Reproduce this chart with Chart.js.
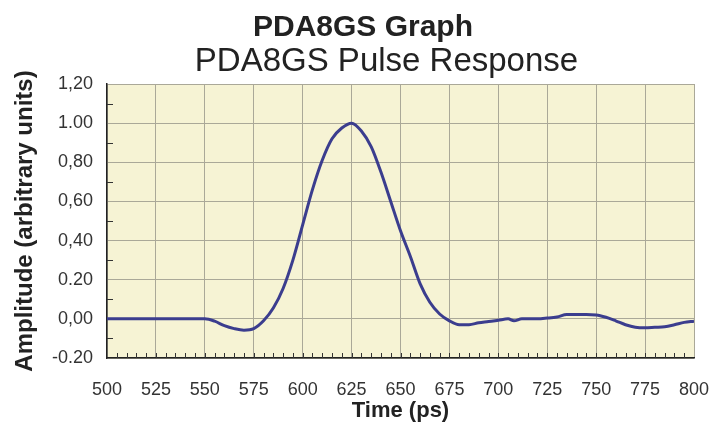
<!DOCTYPE html>
<html>
<head>
<meta charset="utf-8">
<script src="https://cdn.jsdelivr.net/npm/chart.js@4"></script>
<style>
  html, body { margin: 0; padding: 0; background: #fff; }
  #wrap { width: 710px; height: 438px; position: relative; }
</style>
</head>
<body>
<div id="wrap"><canvas id="pulse"></canvas></div>
<script>
// pulse response (ps, arbitrary units)
var times = [500, 510, 520, 530, 540, 550, 555, 560, 565, 570, 575, 580, 585, 590, 595,
  600, 605, 610, 615, 620, 625, 630, 635, 640, 645, 650, 655, 660, 665, 670, 675,
  680, 685, 690, 695, 700, 705, 708, 712, 720, 725, 730, 735, 740, 745, 750, 755,
  760, 765, 770, 775, 780, 785, 790, 795, 800];
var amplitude = [0, 0, 0, 0, 0, 0, -0.012, -0.035, -0.05, -0.058, -0.05, -0.01, 0.055, 0.155, 0.30,
  0.48, 0.66, 0.81, 0.92, 0.975, 1.0, 0.96, 0.88, 0.75, 0.60, 0.45, 0.32, 0.18, 0.085, 0.025, -0.01,
  -0.03, -0.03, -0.02, -0.014, -0.007, 0.0, -0.01, 0.0, 0.0, 0.004, 0.01, 0.022, 0.022, 0.022, 0.02, 0.008,
  -0.01, -0.03, -0.043, -0.046, -0.043, -0.04, -0.03, -0.018, -0.012];
var yTickLabels = ['-0.20', '0,00', '0.20', '0,40', '0,60', '0,80', '1.00', '1,20'];
var xTickLabels = ['500', '525', '550', '575', '600', '625', '650', '675', '700', '725', '750', '775', '800'];

var points = [];
times.forEach(function (t, i) {
  points.push({ x: t, y: amplitude[i] });
});

// pale plot background + little inward minor ticks
var plotDeco = {
  id: 'plotDeco',
  afterLayout: function (chart) {
    // titles in the original sit a bit off the centre
    chart.boxes.forEach(function (b) {
      if (!b.options || !b.options.text) return;
      var shift = b.options.text === 'PDA8GS Graph' ? 8 : -14;
      b.left += shift;
      b.right += shift;
    });
  },
  beforeDraw: function (chart) {
    var a = chart.chartArea, c = chart.ctx;
    c.save();
    c.fillStyle = '#f6f3d4';
    c.fillRect(a.left, a.top, a.right - a.left, a.bottom - a.top);
    c.restore();
  },
  afterDatasetsDraw: function (chart) {
    var a = chart.chartArea, c = chart.ctx;
    var xs = chart.scales.x, ys = chart.scales.y;
    c.save();
    c.strokeStyle = '#333';
    c.lineWidth = 1;
    c.beginPath();
    for (var v = xs.min + 5; v < xs.max; v += 5) {
      var px = Math.round(xs.getPixelForValue(v)) + 0.5;
      c.moveTo(px, a.bottom);
      c.lineTo(px, a.bottom - 5);
    }
    for (var k = 1; k < 14; k += 2) {
      var py = Math.round(ys.getPixelForValue(ys.min + k * 0.1)) + 0.5;
      c.moveTo(a.left, py);
      c.lineTo(a.left + 6, py);
    }
    c.stroke();
    c.restore();
  }
};

var ctx = document.getElementById('pulse');
const myChart = new Chart(ctx, {
  type: 'line',
  data: {
    datasets: [{
      label: 'PDA8GS',
      data: points,
      borderColor: '#3b3d8e',
      borderWidth: 3,
      pointRadius: 0,
      cubicInterpolationMode: 'monotone',
      fill: false
    }]
  },
  options: {
    responsive: true,
    maintainAspectRatio: false,
    animation: false,
    layout: { padding: 0 },
    plugins: {
      legend: { display: false },
      tooltip: { enabled: false },
      title: {
        display: true,
        text: 'PDA8GS Graph',
        color: '#222',
        font: { family: 'Liberation Sans', size: 30, weight: 'bold', lineHeight: 1.0 },
        padding: { top: 13, bottom: 0 }
      },
      subtitle: {
        display: true,
        text: 'PDA8GS Pulse Response',
        color: '#222',
        fullSize: false,
        font: { family: 'Liberation Sans', size: 33, weight: 'normal', lineHeight: 1.0 },
        padding: { top: 2, bottom: 6 }
      }
    },
    scales: {
      x: {
        type: 'linear',
        min: 500,
        max: 800,
        afterFit: function (s) {
          s.height = 80;
          s.paddingLeft = 0;
          s.paddingRight = 16;
        },
        ticks: {
          stepSize: 25,
          padding: 21,
          color: '#333',
          maxRotation: 0,
          font: { family: 'Liberation Sans', size: 18 },
          callback: function (val, i) { return xTickLabels[i]; }
        },
        grid: { color: '#aaa898', lineWidth: 1, drawTicks: false },
        border: { color: '#222', width: 1.5 },
        title: {
          display: true,
          text: 'Time (ps)',
          color: '#222',
          font: { family: 'Liberation Sans', size: 22, weight: 'bold' },
          padding: { top: 0, bottom: 14 }
        }
      },
      y: {
        min: -0.2,
        max: 1.2,
        afterFit: function (s) { s.width = 107; },
        ticks: {
          stepSize: 0.2,
          padding: 14,
          color: '#333',
          font: { family: 'Liberation Sans', size: 18 },
          callback: function (val, i) { return yTickLabels[i]; }
        },
        grid: { color: '#aaa898', lineWidth: 1, drawTicks: false },
        border: { color: '#222', width: 1.5 },
        title: {
          display: true,
          text: 'Amplitude (arbitrary units)',
          color: '#222',
          font: { family: 'Liberation Sans', size: 24, weight: 'bold' },
          padding: { top: 11, bottom: 0 }
        }
      }
    }
  },
  plugins: [plotDeco]
});
</script>
</body>
</html>
